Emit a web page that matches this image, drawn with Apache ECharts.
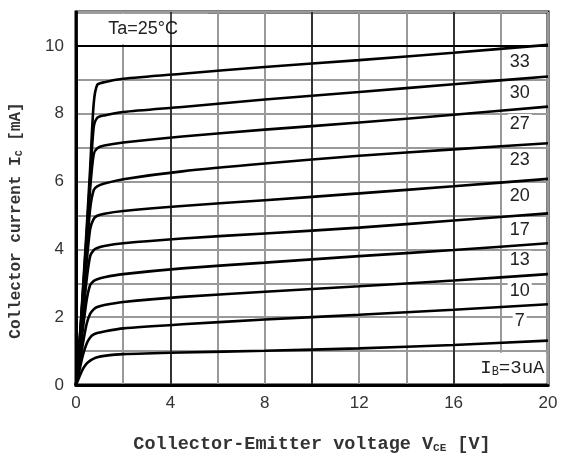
<!DOCTYPE html>
<html>
<head>
<meta charset="utf-8">
<script src="https://cdn.jsdelivr.net/npm/echarts@6/dist/echarts.min.js"></script>
<style>html,body{margin:0;padding:0;background:#fff;}#c{width:564px;height:459px;}</style>
</head>
<body>
<div id="c"></div>
<script>
// Collector-emitter voltage sample points [V]
const vce = [0, 0.15, 0.3, 0.45, 0.6, 0.75, 0.9, 1.2, 2, 4.5, 8, 12, 16, 20];
// Base current labels [uA]
const ibLabels = ['3', '7', '10', '13', '17', '20', '23', '27', '30', '33'];
// Collector current [mA] for each base current
const ic3  = [0, 0.25, 0.48, 0.63, 0.72, 0.78, 0.82, 0.86, 0.91, 0.96, 1.01, 1.08, 1.18, 1.31];
const ic7  = [0, 0.45, 0.9, 1.22, 1.4, 1.49, 1.53, 1.58, 1.67, 1.79, 1.93, 2.07, 2.22, 2.38];
const ic10 = [0, 0.6, 1.25, 1.8, 2.1, 2.23, 2.3, 2.36, 2.45, 2.6, 2.75, 2.91, 3.08, 3.27];
const ic13 = [0, 0.8, 1.7, 2.5, 2.95, 3.07, 3.12, 3.18, 3.27, 3.44, 3.61, 3.8, 3.98, 4.18];
const ic17 = [0, 0.95, 2.0, 3.1, 3.8, 3.98, 4.04, 4.1, 4.18, 4.32, 4.47, 4.64, 4.85, 5.06];
const ic20 = [0, 1.05, 2.3, 3.6, 4.6, 4.9, 4.99, 5.05, 5.13, 5.28, 5.45, 5.65, 5.86, 6.08];
const ic23 = [0, 1.1, 2.5, 3.9, 5.2, 5.75, 5.86, 5.94, 6.07, 6.3, 6.53, 6.76, 6.95, 7.13];
const ic27 = [0, 1.2, 2.7, 4.2, 5.8, 6.8, 6.98, 7.06, 7.15, 7.33, 7.53, 7.74, 7.97, 8.21];
const ic30 = [0, 1.25, 2.8, 4.4, 6.1, 7.6, 7.88, 7.95, 8.05, 8.2, 8.42, 8.64, 8.87, 9.10];
const ic33 = [0, 1.3, 2.9, 4.6, 6.4, 8.3, 8.85, 8.93, 9.03, 9.18, 9.38, 9.58, 9.8, 10.03];
const icAll = [ic3, ic7, ic10, ic13, ic17, ic20, ic23, ic27, ic30, ic33];
// Axis tick labels
const xTickLabels = [0, 4, 8, 12, 16, 20];
const yTickLabels = [0, 2, 4, 6, 8, 10];

const chart = echarts.init(document.getElementById('c'), null, {renderer: 'canvas'});

const labelX = 18.8, labelDrop = 0.5;
const series = icAll.map((arr, i) => {
  const s = {
    name: ibLabels[i],
    type: 'line',
    data: vce.map((v, k) => [v, arr[k]]),
    showSymbol: false,
    symbol: 'none',
    smooth: 0.25,
    lineStyle: {color: '#000', width: 2.6},
    z: 3,
    silent: true
  };
  if (ibLabels[i] !== '3') {
    s.markPoint = {
      symbol: 'circle', symbolSize: 1, silent: true,
      itemStyle: {color: 'rgba(0,0,0,0)'},
      label: {
        show: true, position: 'inside', formatter: ibLabels[i],
        fontFamily: 'Liberation Sans', fontSize: 18, color: '#222',
        backgroundColor: '#fff', padding: [1, 2, 0, 2]
      },
      data: [{coord: [labelX, arr[arr.length - 1] - labelDrop]}]
    };
  } else {
    s.markArea = {
      silent: true,
      itemStyle: {color: '#fff'},
      label: {
        show: true, position: 'inside',
        formatter: 'I{sub|B}=3uA',
        fontFamily: 'Liberation Mono', fontSize: 19, color: '#222',
        rich: {sub: {fontFamily: 'Liberation Mono', fontSize: 12, color: '#222', verticalAlign: 'bottom', padding: [4, 0, 0, 0]}}
      },
      data: [[{coord: [17.05, 0.06]}, {coord: [19.93, 0.95]}]]
    };
  }
  return s;
});

// title box and reference lines
series.push({
  type: 'line', data: [], silent: true, z: 2,
  markArea: {
    silent: true,
    itemStyle: {color: '#fff'},
    label: {show: true, position: 'inside', formatter: 'Ta=25°C', fontFamily: 'Liberation Sans', fontSize: 18, color: '#222'},
    data: [[{coord: [0.08, 10.05]}, {coord: [5.6, 10.95]}]]
  },
  markLine: {
    silent: true, symbol: 'none', label: {show: false},
    lineStyle: {color: '#000', width: 2, type: 'solid'},
    data: [{yAxis: 10}, {xAxis: 4, lineStyle: {width: 1.5, color: '#111'}}, {xAxis: 10, lineStyle: {width: 1.5, color: '#111'}}, {xAxis: 16, lineStyle: {width: 1.5, color: '#111'}}]
  }
});

chart.setOption({
  backgroundColor: '#fff',
  animation: false,
  grid: {left: 74, right: 16, top: 12, bottom: 71, show: true, borderColor: '#000', borderWidth: 3, backgroundColor: 'transparent'},
  xAxis: {
    type: 'value', min: 0, max: 20, interval: 2,
    name: 'Collector-Emitter voltage V{sub|CE} [V]',
    nameLocation: 'middle', nameGap: 50,
    nameTextStyle: {fontFamily: 'Liberation Mono', fontSize: 18.5, fontWeight: 'bold', color: '#333',
      rich: {sub: {fontFamily: 'Liberation Mono', fontSize: 11, fontWeight: 'bold', color: '#333', verticalAlign: 'bottom', padding: [5, 0, 0, 0]}}},
    axisLine: {show: true, lineStyle: {color: '#000', width: 3}},
    axisTick: {show: false},
    axisLabel: {
      margin: 10, fontFamily: 'Liberation Sans', fontSize: 17, color: '#333',
      formatter: v => xTickLabels.includes(v) ? String(v) : ''
    },
    splitLine: {show: true, lineStyle: {color: '#999', width: 2}}
  },
  yAxis: {
    type: 'value', min: 0, max: 11, interval: 1,
    name: 'Collector current I{sub|C} [mA]',
    nameLocation: 'middle', nameGap: 52,
    nameTextStyle: {fontFamily: 'Liberation Mono', fontSize: 16, fontWeight: 'bold', color: '#333', padding: [0, 44, 0, 0],
      rich: {sub: {fontFamily: 'Liberation Mono', fontSize: 10, fontWeight: 'bold', color: '#333', verticalAlign: 'bottom', padding: [5, 0, 0, 0]}}},
    axisLine: {show: true, lineStyle: {color: '#000', width: 3}},
    axisTick: {show: false},
    axisLabel: {
      margin: 12, fontFamily: 'Liberation Sans', fontSize: 17, color: '#333',
      formatter: v => yTickLabels.includes(v) ? String(v) : ''
    },
    splitLine: {show: true, lineStyle: {color: '#999', width: 2}}
  },
  series: series
});
</script>
</body>
</html>
